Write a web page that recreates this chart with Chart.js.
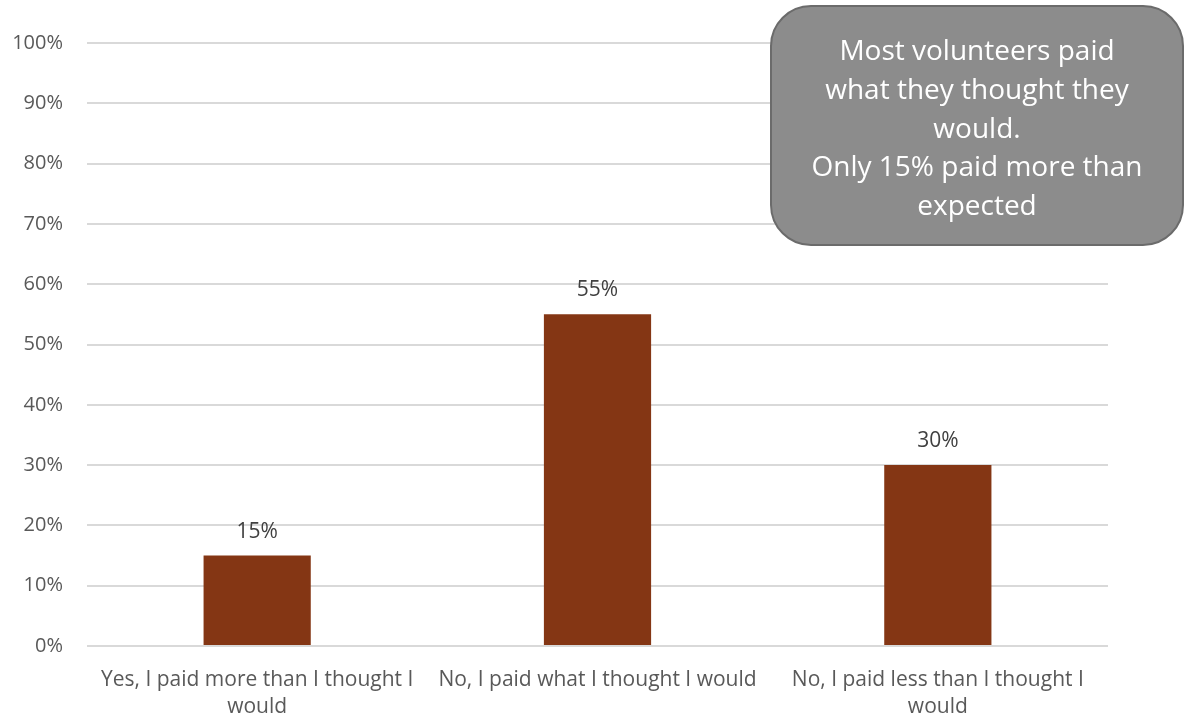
<!DOCTYPE html>
<html>
<head>
<meta charset="utf-8">
<script src="https://cdn.jsdelivr.net/npm/chart.js@4"></script>
<style>
  html, body { margin: 0; padding: 0; background: #ffffff; }
  #wrap { width: 1188px; height: 719px; position: relative; }
</style>
</head>
<body>
<div id="wrap"><canvas id="c" width="1188" height="719"></canvas></div>
<script>
const categories = [
  ["Yes, I paid more than I thought I", "would"],
  ["No, I paid what I thought I would"],
  ["No, I paid less than I thought I", "would"]
];
const values = [15, 55, 30];
const valueLabels = ["15%", "55%", "30%"];
const annotationLines = [
  "Most volunteers paid",
  "what they thought they",
  "would.",
  "Only 15% paid more than",
  "expected"
];

const FONT = "'Open Sans', Lato, sans-serif";

const barLabels = {
  id: 'barLabels',
  afterDatasetsDraw(chart) {
    const ctx = chart.ctx;
    const meta = chart.getDatasetMeta(0);
    ctx.save();
    ctx.font = "21px " + FONT;
    ctx.fillStyle = "#404040";
    ctx.textAlign = "center";
    ctx.textBaseline = "middle";
    meta.data.forEach((bar, i) => {
      ctx.fillText(valueLabels[i], bar.x, bar.y - 24);
    });
    ctx.restore();
  }
};

const annotationBox = {
  id: 'annotationBox',
  afterDraw(chart) {
    const ctx = chart.ctx;
    const x = 771, y = 6, w = 412, h = 239, r = 40;
    ctx.save();
    ctx.beginPath();
    ctx.roundRect(x, y, w, h, r);
    ctx.fillStyle = "#8c8c8c";
    ctx.fill();
    ctx.lineWidth = 2;
    ctx.strokeStyle = "#6b6b6b";
    ctx.stroke();
    ctx.font = "28px " + FONT;
    ctx.fillStyle = "#ffffff";
    ctx.textAlign = "center";
    ctx.textBaseline = "middle";
    annotationLines.forEach((line, i) => {
      ctx.fillText(line, 977, 52 + i * 38.8);
    });
    ctx.restore();
  }
};

new Chart(document.getElementById('c'), {
  type: 'bar',
  data: {
    labels: categories,
    datasets: [{
      data: values,
      backgroundColor: "#843614",
      borderWidth: 0,
      barPercentage: 0.315,
      categoryPercentage: 1.0
    }]
  },
  options: {
    responsive: false,
    animation: false,
    layout: { padding: { left: 0, right: 80, top: 43, bottom: 0 } },
    plugins: { legend: { display: false }, tooltip: { enabled: false } },
    scales: {
      x: {
        grid: { display: false, drawTicks: false },
        border: { display: false },
        ticks: {
          color: "#595959",
          font: { family: FONT, size: 21, lineHeight: 1.3 },
          padding: 20,
          maxRotation: 0,
          autoSkip: false
        },
        afterFit(scale) { scale.height = 73; }
      },
      y: {
        min: 0, max: 100,
        grid: { color: "#d9d9d9", lineWidth: 2, drawTicks: false },
        border: { display: false },
        ticks: {
          stepSize: 10,
          color: "#595959",
          font: { family: FONT, size: 20 },
          padding: 24,
          callback: v => v + "%"
        },
        afterFit(scale) { scale.width = 87; }
      }
    }
  },
  plugins: [barLabels, annotationBox]
});
</script>
</body>
</html>
